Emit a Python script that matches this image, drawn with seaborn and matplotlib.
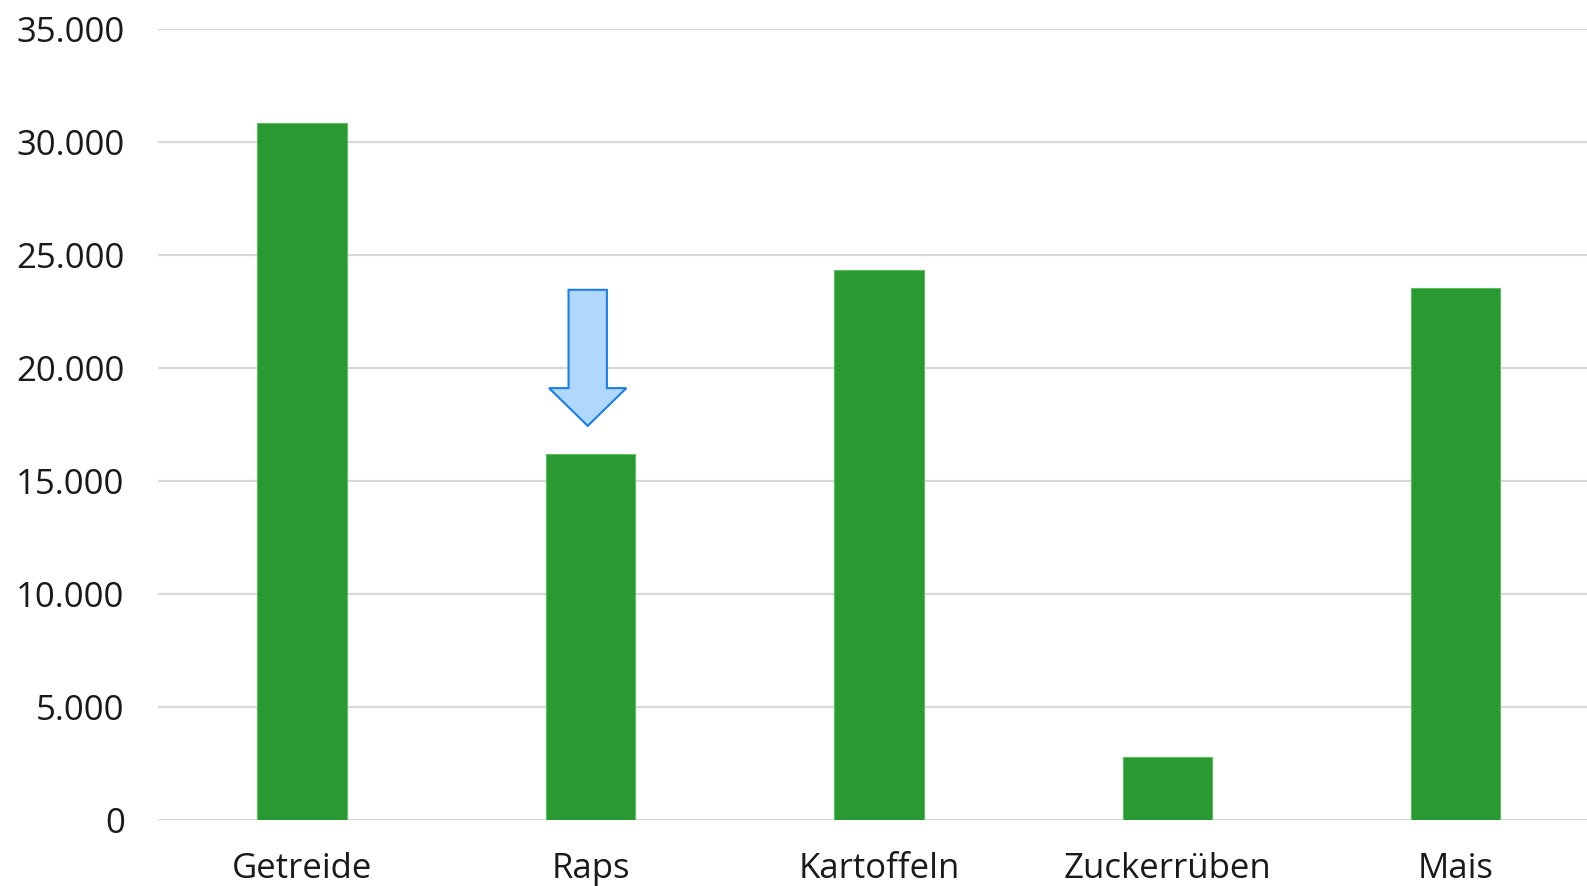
import matplotlib
matplotlib.use('Agg')
import matplotlib.pyplot as plt
import seaborn as sns
import pandas as pd
from matplotlib.patches import FancyArrow
from matplotlib.ticker import FuncFormatter

# data
kulturen = ['Getreide', 'Raps', 'Kartoffeln', 'Zuckerrüben', 'Mais']
werte = [30850, 16180, 24340, 2790, 23520]
y_ticks = [0, 5000, 10000, 15000, 20000, 25000, 30000, 35000]

df = pd.DataFrame({'Kultur': kulturen, 'Wert': werte})

sns.set_theme(style='white')
plt.rcParams['font.family'] = ['Open Sans', 'DejaVu Sans']

fig = plt.figure(figsize=(15.87, 8.86), dpi=100)
ax = fig.add_axes([158 / 1587, 1 - 820 / 886, 1429 / 1587, (820 - 29) / 886])

sns.barplot(data=df, x='Kultur', y='Wert', color='#289a31', saturation=1,
            width=0.31, edgecolor='#5cbf5f', linewidth=0.8, ax=ax, zorder=3)

ax.set_ylim(0, 35000)
ax.set_xlim(-0.5, 4.455)
ax.set_yticks(y_ticks)
ax.yaxis.set_major_formatter(FuncFormatter(lambda v, p: f'{int(v):,}'.replace(',', '.')))
ax.grid(axis='y', color='#d9d9d9', linewidth=1.6, zorder=0)
ax.set_axisbelow(True)
for s in ax.spines.values():
    s.set_visible(False)
ax.tick_params(axis='y', length=0, pad=24, labelsize=25, colors='#1a1a1a')
ax.tick_params(axis='x', length=0, pad=23, labelsize=25, colors='#1a1a1a')
ax.set_xlabel('')
ax.set_ylabel('')

# down arrow above the Raps bar
raps = kulturen.index('Raps')
top = werte[raps] + 7280
tip = werte[raps] + 1260
arrow = FancyArrow(raps - 0.01, top, 0, tip - top, width=0.133, head_width=0.268,
                   head_length=1670, length_includes_head=True,
                   facecolor='#b0d8ff', edgecolor='#1a7fe6', linewidth=1.5, zorder=4)
ax.add_patch(arrow)

fig.savefig('out.png', dpi=100)
